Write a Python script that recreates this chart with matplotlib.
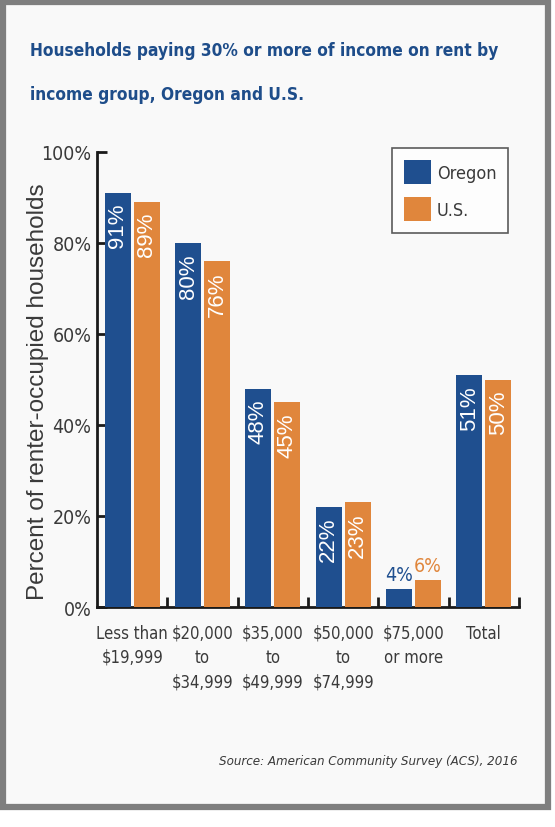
import matplotlib.pyplot as plt
from matplotlib.patches import Rectangle
import numpy as np

# data
groups = ["Less than\n$19,999", "$20,000\nto\n$34,999", "$35,000\nto\n$49,999",
          "$50,000\nto\n$74,999", "$75,000\nor more", "Total"]
oregon = [91, 80, 48, 22, 4, 51]
us = [89, 76, 45, 23, 6, 50]
yticks = [0, 20, 40, 60, 80, 100]

narrow = ["DejaVu Sans"]
plain = ["Liberation Sans", "DejaVu Sans"]
blue = "#1f4f8f"
orange = "#e0863c"
grey_txt = "#3a3a3a"

fig = plt.figure(figsize=(5.55, 8.28), dpi=100)
fig.patch.set_facecolor("white")

# grey frame round the panel
frame = Rectangle((3 / 555, 20 / 828), 545 / 555, 805 / 828,
                  transform=fig.transFigure, facecolor="#f9f9f9",
                  edgecolor="#7f7f7f", linewidth=4.5, zorder=-5)
fig.patches.append(frame)

fig.text(30 / 555, 1 - 51 / 828,
         "Households paying 30% or more of income on rent by",
         family=narrow, stretch="condensed", weight="bold", fontsize=12.4,
         color="#1e4d8a", va="center")
fig.text(30 / 555, 1 - 95 / 828, "income group, Oregon and U.S.",
         family=narrow, stretch="condensed", weight="bold", fontsize=12.4,
         color="#1e4d8a", va="center")

ax = fig.add_axes([97 / 555, 1 - 608 / 828, 422 / 555, 455 / 828])
ax.set_facecolor("none")

x = np.arange(len(groups))
w = 0.37
ax.bar(x - 0.205, oregon, w, color=blue, label="Oregon", zorder=3)
ax.bar(x + 0.205, us, w, color=orange, label="U.S.", zorder=3)

ax.set_xlim(-0.5, len(groups) - 0.5)
ax.set_ylim(0, 100)

for xi, o, u in zip(x, oregon, us):
    if o > 10:
        ax.text(xi - 0.205, o - 2.2, f"{o}%", rotation=90, ha="center",
                va="top", color="white", fontsize=16, family=plain,
                zorder=4)
        ax.text(xi + 0.205, u - 2.2, f"{u}%", rotation=90, ha="center",
                va="top", color="white", fontsize=16, family=plain,
                zorder=4)
    else:
        ax.text(xi - 0.205, o + 1.0, f"{o}%", ha="center", va="bottom",
                color=blue, fontsize=14, family=narrow, stretch="condensed",
                zorder=4)
        ax.text(xi + 0.205, u + 1.0, f"{u}%", ha="center", va="bottom",
                color=orange, fontsize=14, family=narrow, stretch="condensed",
                zorder=4)

for side in ["top", "right"]:
    ax.spines[side].set_visible(False)
for side in ["left", "bottom"]:
    ax.spines[side].set_linewidth(2)
    ax.spines[side].set_color("#1a1a1a")

ax.set_yticks(yticks)
ax.set_yticklabels([f"{v}%" for v in yticks], family=narrow,
                   stretch="condensed", fontsize=14, color=grey_txt)
ax.tick_params(axis="y", direction="in", length=7, width=2, color="#1a1a1a",
               pad=4)

# group labels in the middle, tick marks on the group boundaries
ax.set_xticks(x)
ax.set_xticklabels(groups, family=narrow, stretch="condensed", fontsize=12,
                   color=grey_txt, linespacing=1.45)
ax.tick_params(axis="x", length=0, pad=12)
ax.set_xticks(np.arange(len(groups)) + 0.5, minor=True)
ax.tick_params(axis="x", which="minor", direction="in", length=7, width=2,
               color="#1a1a1a")

ax.set_ylabel("Percent of renter-occupied households", family=plain,
              fontsize=17.5, color=grey_txt)
ax.yaxis.set_label_coords((49 - 97) / 422, (608 - 392) / 455)

leg = ax.legend(loc="upper right", bbox_to_anchor=(0.974, 1.009),
                borderaxespad=0, frameon=True, fancybox=False,
                edgecolor="#333333", facecolor="white",
                prop={"family": narrow, "stretch": "condensed", "size": 13},
                handlelength=1.5, handleheight=1.7, borderpad=0.65,
                labelspacing=0.7, handletextpad=0.3)
leg.get_frame().set_linewidth(1.2)
for t in leg.get_texts():
    t.set_color(grey_txt)

fig.text(518 / 555, 1 - 762 / 828,
         "Source: American Community Survey (ACS), 2016",
         family=narrow, stretch="condensed", style="italic", fontsize=9.5,
         color=grey_txt, ha="right", va="center")

fig.savefig("out.png", dpi=100, facecolor="white")
